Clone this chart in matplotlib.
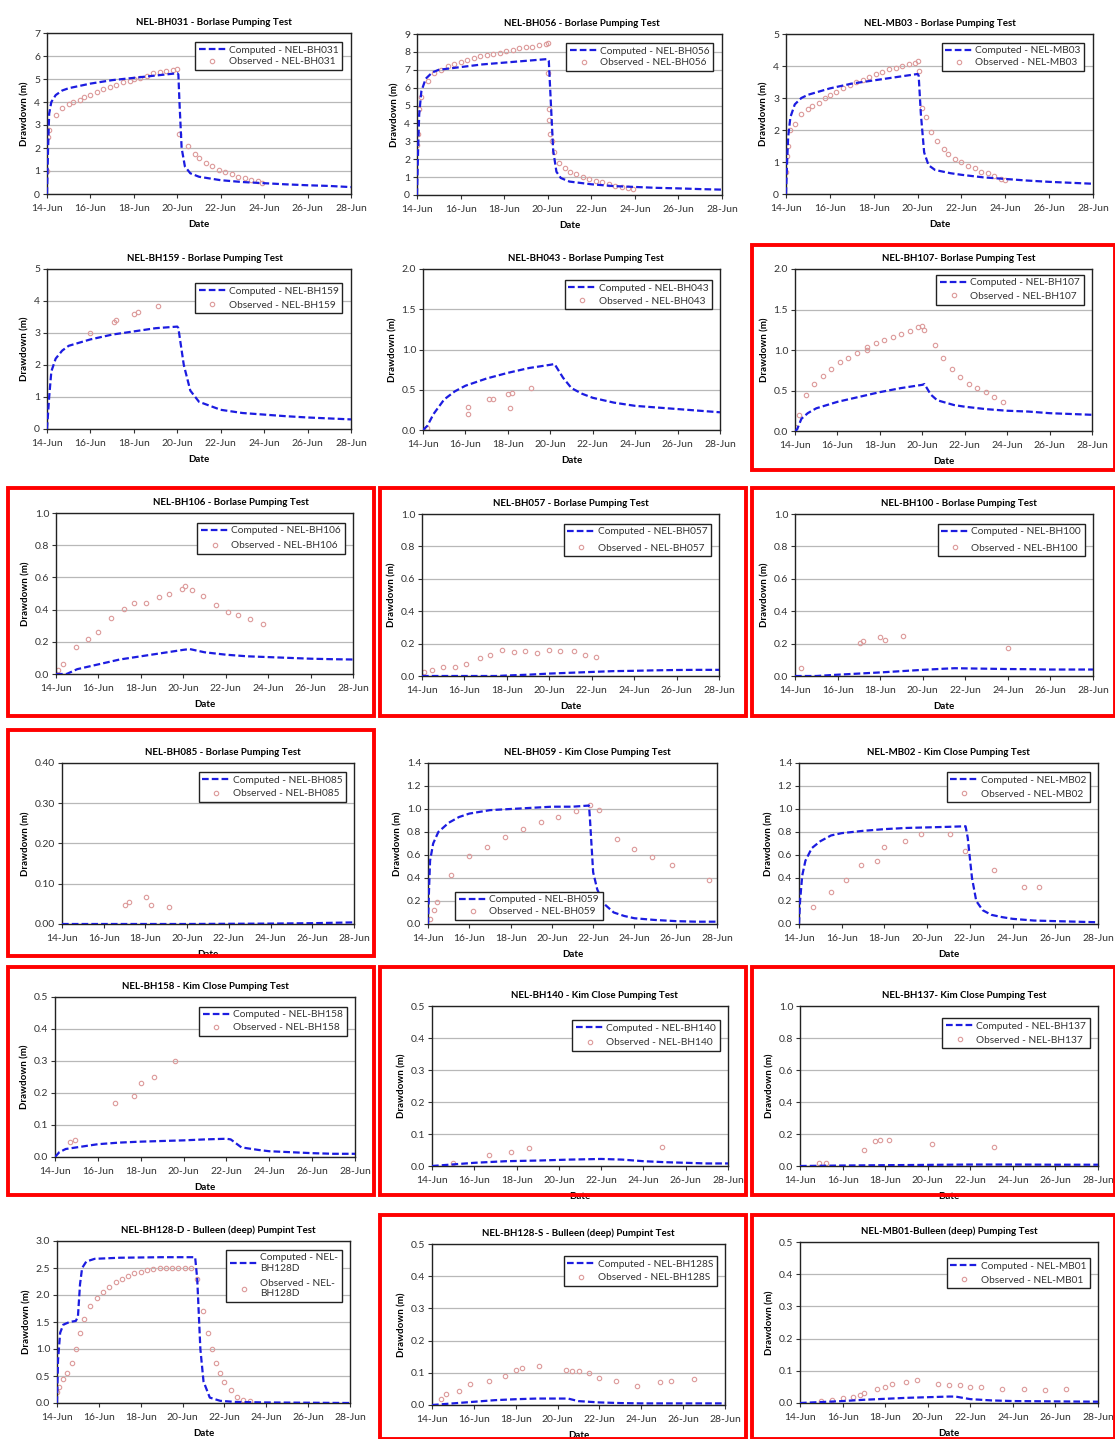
import matplotlib
matplotlib.use('Agg')
import matplotlib.pyplot as plt
from matplotlib.patches import Rectangle
from matplotlib.ticker import FormatStrFormatter

plt.rcParams['font.family'] = ['Lato', 'DejaVu Sans']

date_ticks = [14, 16, 18, 20, 22, 24, 26, 28]
date_labels = ['14-Jun', '16-Jun', '18-Jun', '20-Jun', '22-Jun', '24-Jun', '26-Jun', '28-Jun']

## NEL-BH031
bh031_comp_x = [14.0, 14.05, 14.1, 14.2, 14.4, 14.7, 15, 16, 17, 18, 19, 20, 20.05, 20.1, 20.2, 20.35, 20.6, 21, 22, 23, 24, 25, 26, 27, 28]
bh031_comp_y = [0, 2.0, 3.5, 4.0, 4.3, 4.5, 4.6, 4.8, 4.95, 5.05, 5.15, 5.25, 5.2, 4.0, 2.0, 1.2, 0.9, 0.75, 0.6, 0.52, 0.47, 0.42, 0.38, 0.35, 0.3]
bh031_obs_x = [14.0, 14.05, 14.1, 14.4, 14.7, 15.0, 15.2, 15.5, 15.7, 16.0, 16.3, 16.6, 16.9, 17.2, 17.5, 17.8, 18.0, 18.3, 18.6, 18.9, 19.2, 19.5, 19.8, 20.0,
               20.1, 20.5, 20.8, 21.0, 21.3, 21.6, 21.9, 22.2, 22.5, 22.8, 23.1, 23.4, 23.7, 23.9]
bh031_obs_y = [1.0, 2.5, 2.8, 3.45, 3.75, 3.9, 4.0, 4.1, 4.2, 4.3, 4.45, 4.55, 4.65, 4.75, 4.85, 4.9, 5.0, 5.05, 5.15, 5.25, 5.3, 5.35, 5.4, 5.45,
               2.6, 2.1, 1.75, 1.55, 1.35, 1.2, 1.05, 0.95, 0.85, 0.75, 0.7, 0.62, 0.55, 0.5]

## NEL-BH056
bh056_comp_x = [14.0, 14.05, 14.1, 14.2, 14.4, 14.7, 15, 16, 17, 18, 19, 20, 20.05, 20.15, 20.25, 20.4, 20.6, 21, 22, 23, 24, 25, 26, 27, 28]
bh056_comp_y = [0, 2.5, 4.5, 5.8, 6.5, 6.85, 7.0, 7.15, 7.3, 7.4, 7.5, 7.6, 7.5, 5.0, 2.5, 1.3, 0.95, 0.75, 0.6, 0.5, 0.45, 0.4, 0.37, 0.33, 0.3]
bh056_obs_x = [14.0, 14.05, 14.1, 14.2, 14.5, 14.8, 15.1, 15.4, 15.7, 16.0, 16.3, 16.6, 16.9, 17.2, 17.5, 17.8, 18.1, 18.4, 18.7, 19.0, 19.3, 19.6, 19.9, 20.0,
               20.0, 20.05, 20.05, 20.1, 20.2, 20.3, 20.5, 20.8, 21.0, 21.3, 21.6, 21.9, 22.2, 22.5, 22.8, 23.1, 23.4, 23.7, 23.9]
bh056_obs_y = [2.8, 3.4, 4.8, 5.5, 6.4, 6.8, 7.0, 7.2, 7.35, 7.45, 7.55, 7.65, 7.75, 7.85, 7.9, 7.95, 8.05, 8.1, 8.2, 8.25, 8.3, 8.4, 8.45, 8.5,
               6.8, 4.8, 4.2, 3.4, 3.0, 2.4, 1.8, 1.5, 1.3, 1.15, 1.0, 0.9, 0.8, 0.7, 0.6, 0.5, 0.45, 0.38, 0.35]

## NEL-MB03
mb03_comp_x = [14.0, 14.05, 14.1, 14.2, 14.4, 14.7, 15, 16, 17, 18, 19, 20, 20.05, 20.15, 20.3, 20.5, 20.8, 21.5, 22, 23, 24, 25, 26, 27, 28]
mb03_comp_y = [0, 1.0, 1.8, 2.4, 2.8, 3.0, 3.1, 3.3, 3.45, 3.55, 3.65, 3.75, 3.7, 2.5, 1.3, 0.9, 0.75, 0.65, 0.6, 0.52, 0.47, 0.42, 0.38, 0.35, 0.32]
mb03_obs_x = [14.0, 14.05, 14.1, 14.2, 14.4, 14.7, 15.0, 15.2, 15.5, 15.8, 16.0, 16.3, 16.6, 16.9, 17.2, 17.5, 17.8, 18.1, 18.4, 18.7, 19.0, 19.3, 19.6, 19.9, 20.0,
              20.05, 20.2, 20.4, 20.6, 20.9, 21.2, 21.4, 21.7, 22.0, 22.3, 22.6, 22.9, 23.2, 23.5, 23.8, 24.0]
mb03_obs_y = [0.7, 1.2, 1.5, 2.0, 2.2, 2.5, 2.65, 2.75, 2.85, 3.0, 3.1, 3.2, 3.3, 3.4, 3.5, 3.55, 3.65, 3.75, 3.8, 3.9, 3.95, 4.0, 4.05, 4.1, 4.15,
              3.85, 2.7, 2.4, 1.95, 1.65, 1.4, 1.25, 1.1, 1.0, 0.88, 0.8, 0.7, 0.65, 0.55, 0.48, 0.45]

## NEL-BH159
bh159_comp_x = [14.0, 14.1, 14.2, 14.4, 14.7, 15, 16, 17, 18, 19, 20, 20.05, 20.3, 20.6, 21, 22, 23, 24, 25, 26, 27, 28]
bh159_comp_y = [0, 1.0, 1.8, 2.2, 2.45, 2.6, 2.8, 2.95, 3.05, 3.15, 3.2, 3.15, 2.0, 1.2, 0.85, 0.6, 0.5, 0.45, 0.4, 0.36, 0.33, 0.3]
bh159_obs_x = [16.0, 17.1, 17.2, 18.0, 18.2, 19.1]
bh159_obs_y = [3.0, 3.35, 3.4, 3.6, 3.65, 3.85]

## NEL-BH043
bh043_comp_x = [14.0, 14.2, 14.5, 15.0, 15.5, 16, 17, 18, 19, 20, 20.2, 20.6, 21, 21.5, 22, 23, 24, 25, 26, 27, 28]
bh043_comp_y = [0, 0.05, 0.2, 0.38, 0.48, 0.55, 0.64, 0.71, 0.77, 0.81, 0.82, 0.65, 0.52, 0.45, 0.4, 0.34, 0.3, 0.28, 0.26, 0.24, 0.22]
bh043_obs_x = [14.2, 16.1, 16.1, 17.1, 17.3, 18.0, 18.2, 18.1, 19.1]
bh043_obs_y = [0.02, 0.28, 0.2, 0.38, 0.38, 0.45, 0.46, 0.27, 0.52]

## NEL-BH107
bh107_comp_x = [14.0, 14.1, 14.3, 14.6, 15, 16, 17, 18, 19, 20, 20.1, 20.4, 20.7, 21.5, 22, 23, 24, 25, 26, 27, 28]
bh107_comp_y = [0, 0.02, 0.15, 0.22, 0.28, 0.36, 0.42, 0.48, 0.53, 0.57, 0.58, 0.45, 0.38, 0.32, 0.3, 0.27, 0.25, 0.24, 0.22, 0.21, 0.2]
bh107_obs_x = [14.0, 14.2, 14.5, 14.9, 15.3, 15.7, 16.1, 16.5, 16.9, 17.4, 17.4, 17.8, 18.2, 18.6, 19.0, 19.4, 19.8, 20.0,
               20.1, 20.6, 21.0, 21.4, 21.8, 22.2, 22.6, 23.0, 23.4, 23.8]
bh107_obs_y = [0.05, 0.2, 0.45, 0.58, 0.68, 0.77, 0.85, 0.9, 0.96, 1.0, 1.04, 1.09, 1.12, 1.16, 1.2, 1.24, 1.28, 1.3,
               1.25, 1.06, 0.9, 0.77, 0.67, 0.58, 0.53, 0.48, 0.42, 0.36]

## NEL-BH106
bh106_comp_x = [14.0, 14.5, 15, 16, 17, 18, 19, 20, 20.3, 21, 22, 23, 24, 25, 26, 27, 28]
bh106_comp_y = [0.0, 0.0, 0.03, 0.06, 0.09, 0.11, 0.13, 0.15, 0.155, 0.135, 0.12, 0.11, 0.105, 0.1, 0.095, 0.092, 0.09]
bh106_obs_x = [14.1, 14.35, 14.95, 15.5, 16.0, 16.6, 17.2, 17.7, 18.25, 18.85, 19.35, 19.95, 20.1, 20.4, 20.95, 21.55, 22.1, 22.6, 23.15, 23.75]
bh106_obs_y = [0.025, 0.06, 0.165, 0.22, 0.26, 0.35, 0.405, 0.44, 0.44, 0.48, 0.5, 0.53, 0.545, 0.52, 0.485, 0.43, 0.385, 0.365, 0.34, 0.31]

## NEL-BH057
bh057_comp_x = [14, 17.5, 18, 19, 20, 21, 22, 23, 24, 25, 26, 27, 28]
bh057_comp_y = [0, 0.0, 0.003, 0.008, 0.015, 0.02, 0.025, 0.03, 0.032, 0.035, 0.037, 0.038, 0.038]
bh057_obs_x = [14.1, 14.47, 14.99, 15.54, 16.09, 16.72, 17.19, 17.79, 18.34, 18.87, 19.44, 19.97, 20.52, 21.15, 21.67, 22.22]
bh057_obs_y = [0.025, 0.035, 0.056, 0.056, 0.072, 0.11, 0.128, 0.16, 0.15, 0.157, 0.145, 0.16, 0.155, 0.155, 0.132, 0.118]

## NEL-BH100
bh100_comp_x = [14, 15, 16, 17, 18, 19, 20, 21, 21.5, 22, 23, 24, 25, 26, 27, 28]
bh100_comp_y = [0, 0.0, 0.008, 0.015, 0.022, 0.03, 0.038, 0.045, 0.048, 0.047, 0.045, 0.043, 0.042, 0.04, 0.04, 0.04]
bh100_obs_x = [14.28, 17.06, 17.2, 18.0, 18.23, 19.09, 24.03]
bh100_obs_y = [0.05, 0.205, 0.215, 0.24, 0.22, 0.25, 0.175]

## NEL-BH085
bh085_comp_x = [14, 20, 22, 24, 26, 28]
bh085_comp_y = [0, 0.0, 0.0005, 0.001, 0.002, 0.004]
bh085_obs_x = [17.03, 17.23, 18.03, 18.27, 19.11]
bh085_obs_y = [0.048, 0.055, 0.068, 0.048, 0.042]

## NEL-BH059
bh059_comp_x = [14.0, 14.05, 14.1, 14.25, 14.5, 15, 15.5, 16, 17, 18, 19, 20, 21, 21.8, 21.85, 22, 22.2, 22.5, 23, 23.5, 24, 25, 26, 27, 28]
bh059_comp_y = [0, 0.3, 0.55, 0.7, 0.8, 0.88, 0.93, 0.96, 0.99, 1.0, 1.01, 1.02, 1.02, 1.03, 0.9, 0.45, 0.3, 0.18, 0.1, 0.07, 0.05, 0.035, 0.025, 0.02, 0.02]
bh059_obs_x = [14.08, 14.27, 14.44, 15.13, 15.97, 16.86, 17.72, 18.59, 19.45, 20.3, 21.17, 21.87, 22.3, 23.14, 23.97, 24.86, 25.84, 27.6]
bh059_obs_y = [0.04, 0.12, 0.19, 0.43, 0.59, 0.67, 0.755, 0.83, 0.89, 0.93, 0.985, 1.035, 0.99, 0.74, 0.65, 0.58, 0.51, 0.38]

## NEL-MB02
mb02_comp_x = [14, 14.05, 14.15, 14.3, 14.6, 15, 15.5, 16, 17, 18, 19, 20, 21, 21.8, 21.9, 22.1, 22.3, 22.6, 23, 23.5, 24, 25, 26, 27, 28]
mb02_comp_y = [0, 0.2, 0.42, 0.55, 0.66, 0.72, 0.77, 0.79, 0.81, 0.825, 0.835, 0.84, 0.845, 0.85, 0.75, 0.4, 0.2, 0.12, 0.08, 0.06, 0.045, 0.03, 0.025, 0.02, 0.015]
mb02_obs_x = [14.67, 15.49, 16.22, 16.91, 17.64, 18.0, 18.98, 19.71, 21.07, 21.75, 23.15, 24.54, 25.24]
mb02_obs_y = [0.15, 0.28, 0.38, 0.51, 0.55, 0.67, 0.72, 0.78, 0.78, 0.635, 0.47, 0.32, 0.32]

## NEL-BH158
bh158_comp_x = [14, 14.2, 14.5, 15, 16, 17, 18, 19, 20, 21, 22, 22.2, 22.7, 23.5, 24, 25, 26, 27, 28]
bh158_comp_y = [0, 0.015, 0.025, 0.03, 0.04, 0.045, 0.048, 0.05, 0.052, 0.055, 0.057, 0.055, 0.03, 0.022, 0.018, 0.015, 0.012, 0.01, 0.01]
bh158_obs_x = [14.7, 14.94, 16.8, 17.7, 18.0, 18.6, 19.6]
bh158_obs_y = [0.047, 0.053, 0.17, 0.19, 0.23, 0.25, 0.3]

## NEL-BH140
bh140_comp_x = [14, 15, 16, 17.5, 19, 20.5, 22, 23, 24, 25, 26, 27, 28]
bh140_comp_y = [0, 0.005, 0.01, 0.015, 0.017, 0.02, 0.022, 0.02, 0.015, 0.012, 0.01, 0.008, 0.008]
bh140_obs_x = [15.0, 16.7, 17.75, 18.6, 24.9]
bh140_obs_y = [0.01, 0.035, 0.045, 0.055, 0.06]

## NEL-BH137
bh137_comp_x = [14, 16, 18, 20, 22, 24, 26, 28]
bh137_comp_y = [0, 0.003, 0.005, 0.007, 0.009, 0.009, 0.008, 0.008]
bh137_obs_x = [14.9, 15.2, 17.0, 17.5, 17.75, 18.2, 20.2, 23.1]
bh137_obs_y = [0.02, 0.02, 0.1, 0.155, 0.16, 0.16, 0.14, 0.12]

## NEL-BH128-D
bh128d_comp_x = [14, 14.05, 14.15, 14.3, 14.6, 14.9, 15.0, 15.1, 15.2, 15.4, 15.8, 17, 19, 20.6, 20.7, 20.85, 21.0, 21.3, 21.8, 22.5, 24, 28]
bh128d_comp_y = [0, 0.8, 1.3, 1.45, 1.5, 1.52, 1.6, 2.2, 2.5, 2.62, 2.67, 2.69, 2.7, 2.7, 2.3, 1.0, 0.4, 0.1, 0.04, 0.02, 0.01, 0.0]
bh128d_obs_x = [14.0, 14.1, 14.3, 14.5, 14.7, 14.9, 15.1, 15.3, 15.6, 15.9, 16.2, 16.5, 16.8, 17.1, 17.4, 17.7, 18.0, 18.3, 18.6, 18.9,
                19.2, 19.5, 19.8, 20.1, 20.4, 20.7, 21.0, 21.2, 21.4, 21.6, 21.8, 22.0, 22.3, 22.6, 22.9, 23.2]
bh128d_obs_y = [0.2, 0.3, 0.45, 0.55, 0.75, 1.0, 1.3, 1.55, 1.8, 1.95, 2.05, 2.15, 2.25, 2.3, 2.35, 2.4, 2.43, 2.46, 2.48, 2.5,
                2.5, 2.5, 2.5, 2.5, 2.5, 2.3, 1.7, 1.3, 1.0, 0.75, 0.55, 0.38, 0.25, 0.12, 0.06, 0.03]

## NEL-BH128-S
bh128s_comp_x = [14, 15, 16, 17, 18, 19, 20, 20.5, 21, 22, 23, 24, 26, 28]
bh128s_comp_y = [0, 0.005, 0.01, 0.015, 0.018, 0.02, 0.02, 0.02, 0.012, 0.008, 0.006, 0.005, 0.005, 0.005]
bh128s_obs_x = [14.43, 14.67, 15.3, 15.8, 16.7, 17.5, 18.0, 18.3, 19.1, 20.4, 20.7, 21.0, 21.5, 22.0, 22.8, 23.8, 24.9, 25.4, 26.5]
bh128s_obs_y = [0.02, 0.035, 0.045, 0.065, 0.075, 0.09, 0.11, 0.115, 0.12, 0.11, 0.105, 0.105, 0.1, 0.085, 0.075, 0.06, 0.07, 0.075, 0.08]

## NEL-MB01
mb01_comp_x = [14, 15, 16, 17, 18, 19, 20, 21, 21.3, 22, 23, 24, 26, 28]
mb01_comp_y = [0, 0.003, 0.006, 0.01, 0.013, 0.016, 0.018, 0.02, 0.02, 0.012, 0.008, 0.006, 0.005, 0.004]
mb01_obs_x = [15.0, 15.5, 16.0, 16.5, 16.8, 17.0, 17.6, 18.0, 18.3, 19.0, 19.5, 20.5, 21.0, 21.5, 22.0, 22.5, 23.5, 24.5, 25.5, 26.5]
mb01_obs_y = [0.005, 0.01, 0.015, 0.02, 0.025, 0.03, 0.045, 0.05, 0.06, 0.065, 0.07, 0.06, 0.055, 0.055, 0.05, 0.05, 0.045, 0.045, 0.04, 0.045]

# title, legend well name, computed, observed, y max, y step, y tick format
panels = [
    ('NEL-BH031 - Borlase Pumping Test', 'NEL-BH031', bh031_comp_x, bh031_comp_y, bh031_obs_x, bh031_obs_y, 7, 1, '%d'),
    ('NEL-BH056 - Borlase Pumping Test', 'NEL-BH056', bh056_comp_x, bh056_comp_y, bh056_obs_x, bh056_obs_y, 9, 1, '%d'),
    ('NEL-MB03 - Borlase Pumping Test', 'NEL-MB03', mb03_comp_x, mb03_comp_y, mb03_obs_x, mb03_obs_y, 5, 1, '%d'),
    ('NEL-BH159 - Borlase Pumping Test', 'NEL-BH159', bh159_comp_x, bh159_comp_y, bh159_obs_x, bh159_obs_y, 5, 1, '%d'),
    ('NEL-BH043 - Borlase Pumping Test', 'NEL-BH043', bh043_comp_x, bh043_comp_y, bh043_obs_x, bh043_obs_y, 2, 0.5, '%.1f'),
    ('NEL-BH107- Borlase Pumping Test', 'NEL-BH107', bh107_comp_x, bh107_comp_y, bh107_obs_x, bh107_obs_y, 2, 0.5, '%.1f'),
    ('NEL-BH106 - Borlase Pumping Test', 'NEL-BH106', bh106_comp_x, bh106_comp_y, bh106_obs_x, bh106_obs_y, 1, 0.2, '%.1f'),
    ('NEL-BH057 - Borlase Pumping Test', 'NEL-BH057', bh057_comp_x, bh057_comp_y, bh057_obs_x, bh057_obs_y, 1, 0.2, '%.1f'),
    ('NEL-BH100 - Borlase Pumping Test', 'NEL-BH100', bh100_comp_x, bh100_comp_y, bh100_obs_x, bh100_obs_y, 1, 0.2, '%.1f'),
    ('NEL-BH085 - Borlase Pumping Test', 'NEL-BH085', bh085_comp_x, bh085_comp_y, bh085_obs_x, bh085_obs_y, 0.4, 0.1, '%.2f'),
    ('NEL-BH059 - Kim Close Pumping Test', 'NEL-BH059', bh059_comp_x, bh059_comp_y, bh059_obs_x, bh059_obs_y, 1.4, 0.2, '%.1f'),
    ('NEL-MB02 - Kim Close Pumping Test', 'NEL-MB02', mb02_comp_x, mb02_comp_y, mb02_obs_x, mb02_obs_y, 1.4, 0.2, '%.1f'),
    ('NEL-BH158 - Kim Close Pumping Test', 'NEL-BH158', bh158_comp_x, bh158_comp_y, bh158_obs_x, bh158_obs_y, 0.5, 0.1, '%.1f'),
    ('NEL-BH140 - Kim Close Pumping Test', 'NEL-BH140', bh140_comp_x, bh140_comp_y, bh140_obs_x, bh140_obs_y, 0.5, 0.1, '%.1f'),
    ('NEL-BH137- Kim Close Pumping Test', 'NEL-BH137', bh137_comp_x, bh137_comp_y, bh137_obs_x, bh137_obs_y, 1, 0.2, '%.1f'),
    ('NEL-BH128-D - Bulleen (deep) Pumpint Test', 'NEL-\nBH128D', bh128d_comp_x, bh128d_comp_y, bh128d_obs_x, bh128d_obs_y, 3, 0.5, '%.1f'),
    ('NEL-BH128-S - Bulleen (deep) Pumpint Test', 'NEL-BH128S', bh128s_comp_x, bh128s_comp_y, bh128s_obs_x, bh128s_obs_y, 0.5, 0.1, '%.1f'),
    ('NEL-MB01-Bulleen (deep) Pumping Test', 'NEL-MB01', mb01_comp_x, mb01_comp_y, mb01_obs_x, mb01_obs_y, 0.5, 0.1, '%.1f'),
]

## layout in pixels: plot box (left, top, right, bottom), title x, legend top / row gap, red frames
W, H = 1115, 1439
boxes = [(47, 33, 351, 194), (417, 34, 722, 195), (786, 34, 1093, 194),
         (47, 269, 351, 429), (423, 269, 720, 430), (795, 269, 1092, 431),
         (56, 513, 353, 674), (422, 514, 719, 676), (795, 514, 1093, 676),
         (62, 763, 354, 924), (428, 763, 717, 924), (799, 763, 1098, 924),
         (55, 997, 355, 1157), (432, 1006, 728, 1166), (800, 1006, 1098, 1166),
         (57, 1241, 350, 1403), (432, 1244, 725, 1405), (800, 1242, 1098, 1403)]
title_x = [0.55, 0.54, 0.5, 0.52, 0.55, 0.55, 0.59, 0.5, 0.55, 0.55, 0.55, 0.5,
           0.5, 0.55, 0.55, 0.55, 0.5, 0.5]
leg_top = [0.945, 0.945, 0.945, 0.91, 0.93, 0.965, 0.94, 0.94, 0.94, 0.945, 0.0, 0.945,
           0.94, 0.91, 0.925, 0.945, 0.925, 0.9]
leg_gap = [0.25, 0.25, 0.25, 0.45, 0.35, 0.45, 0.6, 0.7, 0.7, 0.45, 0.3, 0.5,
           0.4, 0.5, 0.5, 0.6, 0.45, 0.5]
red_boxes = [(752, 245, 1115, 470), (8, 488, 374, 716), (380, 488, 746, 716), (752, 488, 1115, 716),
             (8, 730, 374, 956), (8, 967, 374, 1195), (380, 967, 746, 1195), (752, 967, 1115, 1195),
             (380, 1215, 746, 1439), (752, 1215, 1115, 1439)]

fig = plt.figure(figsize=(W / 100, H / 100), dpi=100)
fig.patch.set_facecolor('white')

for i, (p, box) in enumerate(zip(panels, boxes)):
    title, well, cx, cy, ox, oy, ymax, ystep, yfmt = p
    l, t, r, b = box
    ax = fig.add_axes([l / W, 1 - b / H, (r - l) / W, (b - t) / H])
    ax.plot(cx, cy, color='#1c1ce0', lw=1.6, dashes=(3, 1.4), label='Computed - ' + well, zorder=3)
    ax.plot(ox, oy, ls='none', marker='o', ms=3.2, mfc='none', mec='#dc9a9a', mew=0.8,
            label='Observed - ' + well, zorder=2)
    ax.set_xlim(14, 28)
    ax.set_ylim(0, ymax)
    ax.set_xticks(date_ticks)
    ax.set_xticklabels(date_labels)
    nt = int(round(ymax / ystep))
    ax.set_yticks([k * ystep for k in range(nt + 1)])
    ax.yaxis.set_major_formatter(FormatStrFormatter(yfmt))
    ax.tick_params(labelsize=7.5, colors='#333333', length=3, width=0.8, pad=2)
    ax.tick_params(axis='x', pad=4)
    ax.yaxis.grid(True, color='#b8b8b8', lw=0.9)
    ax.set_axisbelow(True)
    for s in ax.spines.values():
        s.set_color('#222222')
        s.set_linewidth(1.0)
    ax.set_title(title, fontsize=7, fontweight='bold', x=title_x[i], pad=6)
    ax.set_ylabel('Drawdown (m)', fontsize=7, fontweight='bold', labelpad=3)
    ax.set_xlabel('Date', fontsize=7, fontweight='bold', labelpad=5)
    kw = dict(fontsize=7.3, handlelength=2.7, handletextpad=0.3, borderpad=0.35,
              labelspacing=leg_gap[i], fancybox=False, framealpha=1, borderaxespad=0)
    if i == 10:
        leg = ax.legend(loc='lower left', bbox_to_anchor=(0.095, 0.025), **kw)
    else:
        leg = ax.legend(loc='upper right', bbox_to_anchor=(0.972, leg_top[i]), **kw)
    leg.get_frame().set_edgecolor('#222222')
    leg.get_frame().set_linewidth(1.0)
    for txt in leg.get_texts():
        txt.set_color('#333333')

for x0, y0, x1, y1 in red_boxes:
    fig.add_artist(Rectangle((x0 / W, 1 - y1 / H), (x1 - x0) / W, (y1 - y0) / H,
                             transform=fig.transFigure, fill=False, ec='#ff0000', lw=2.8))

fig.savefig('out.png', dpi=100)
